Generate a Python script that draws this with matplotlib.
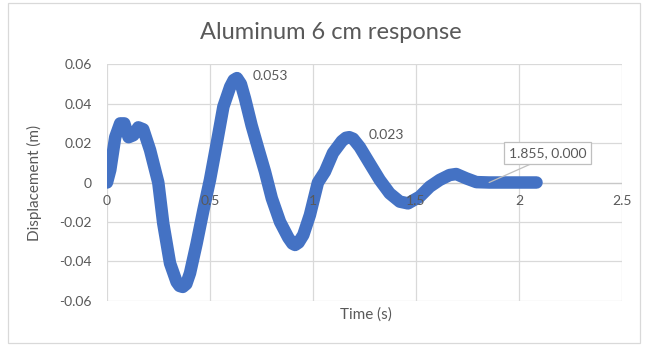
import numpy as np
import matplotlib
matplotlib.use("Agg")
import matplotlib.pyplot as plt
from matplotlib.patches import Rectangle

# Values
time_s = [0.000, 0.016, 0.040, 0.064, 0.084, 0.105, 0.128, 0.152, 0.176, 0.209,
          0.249, 0.273, 0.306, 0.338, 0.352, 0.368, 0.385, 0.403, 0.435, 0.468,
          0.500, 0.533, 0.565, 0.598, 0.615, 0.631, 0.650, 0.670, 0.702, 0.734,
          0.767, 0.800, 0.840, 0.880, 0.900, 0.913, 0.930, 0.953, 0.985, 1.024,
          1.058, 1.097, 1.140, 1.160, 1.176, 1.195, 1.227, 1.275, 1.324, 1.372,
          1.421, 1.461, 1.518, 1.567, 1.615, 1.663, 1.695, 1.744, 1.793, 1.855,
          1.950, 2.085]
disp_m = [0.0000, 0.0064, 0.0230, 0.0300, 0.0300, 0.0230, 0.0240, 0.0280, 0.0270, 0.0165,
          0.0000, -0.0207, -0.0410, -0.0505, -0.0525, -0.0530, -0.0515, -0.0460, -0.0310, -0.0140,
          0.0014, 0.0200, 0.0385, 0.0486, 0.0520, 0.0530, 0.0500, 0.0426, 0.0290, 0.0173,
          0.0055, -0.0080, -0.0200, -0.0280, -0.0310, -0.0317, -0.0305, -0.0266, -0.0165, 0.0000,
          0.0055, 0.0150, 0.0210, 0.0227, 0.0230, 0.0222, 0.0180, 0.0097, 0.0013, -0.0055,
          -0.0097, -0.0106, -0.0072, -0.0021, 0.0013, 0.0038, 0.0043, 0.0021, 0.0002, 0.0000,
          0.0000, 0.0000]

x_ticks = [0, 0.5, 1, 1.5, 2, 2.5]
x_tick_labels = ["0", "0.5", "1", "1.5", "2", "2.5"]
y_ticks = [-0.06, -0.04, -0.02, 0, 0.02, 0.04, 0.06]
y_tick_labels = ["-0.06", "-0.04", "-0.02", "0", "0.02", "0.04", "0.06"]

# labelled points: (t, value, text)
peak1 = (0.631, 0.053, "0.053")
peak2 = (1.176, 0.023, "0.023")
settle = (1.855, 0.000, "1.855, 0.000")

plt.rcParams['font.family'] = ['Lato', 'DejaVu Sans']
grey_txt = '#595959'
grid_c = '#d9d9d9'
blue = '#4472c4'

fig = plt.figure(figsize=(6.48, 3.45), dpi=100)
ax = fig.add_axes([0.1651, 0.1284, 0.7948, 0.6852])

# outer chart frame
fig.patches.append(Rectangle((8 / 648, 2 / 345), 632 / 648, 340 / 345,
                             transform=fig.transFigure, fill=False,
                             edgecolor=grid_c, lw=0.9))

ax.plot(time_s, disp_m, color=blue, lw=9, solid_capstyle='round',
        solid_joinstyle='round', zorder=3)

ax.set_xlim(0, 2.5)
ax.set_ylim(-0.06, 0.06)
ax.set_xticks(x_ticks)
ax.set_yticks(y_ticks)
ax.set_xticklabels([])
ax.set_yticklabels(y_tick_labels, color=grey_txt, fontsize=10)
ax.tick_params(length=0)
ax.tick_params(axis='y', pad=11)
ax.set_axisbelow(True)
ax.grid(True, color=grid_c, lw=0.9)
for s in ax.spines.values():
    s.set_visible(False)
ax.axhline(0, color='#c8c8c8', lw=0.9, zorder=1)

# x tick labels sit on the zero line, above the curve
for t, lbl in zip(x_ticks, x_tick_labels):
    ax.annotate(lbl, (t, 0), xytext=(0, -9), textcoords='offset points',
                ha='center', va='top', fontsize=10, color=grey_txt, zorder=5)

ax.set_ylabel("Displacement (m)", color=grey_txt, fontsize=11)
ax.yaxis.set_label_coords(-0.126, 0.5)
ax.set_xlabel("Time (s)", color=grey_txt, fontsize=11)
ax.xaxis.set_label_coords(0.503, -0.03)

fig.text(0.511, 0.907, "Aluminum 6 cm response", ha='center', va='center',
         fontsize=17, color=grey_txt)

for (t, v, lbl), dx in ((peak1, 11), (peak2, 14)):
    ax.annotate(lbl, (t, v), xytext=(dx, 1.5), textcoords='offset points',
                ha='left', va='center', fontsize=10, color=grey_txt, zorder=5)

ax.annotate(settle[2], (settle[0], settle[1]), xytext=(42, 21),
            textcoords='offset points', ha='center', va='center',
            fontsize=10, color=grey_txt, zorder=6,
            bbox=dict(boxstyle='square,pad=0.35', fc='white', ec='#bfbfbf', lw=0.9),
            arrowprops=dict(arrowstyle='-', color='#bfbfbf', lw=0.9,
                            relpos=(0.42, 0.0), shrinkA=0, shrinkB=0))

fig.savefig("out.png", dpi=100)
